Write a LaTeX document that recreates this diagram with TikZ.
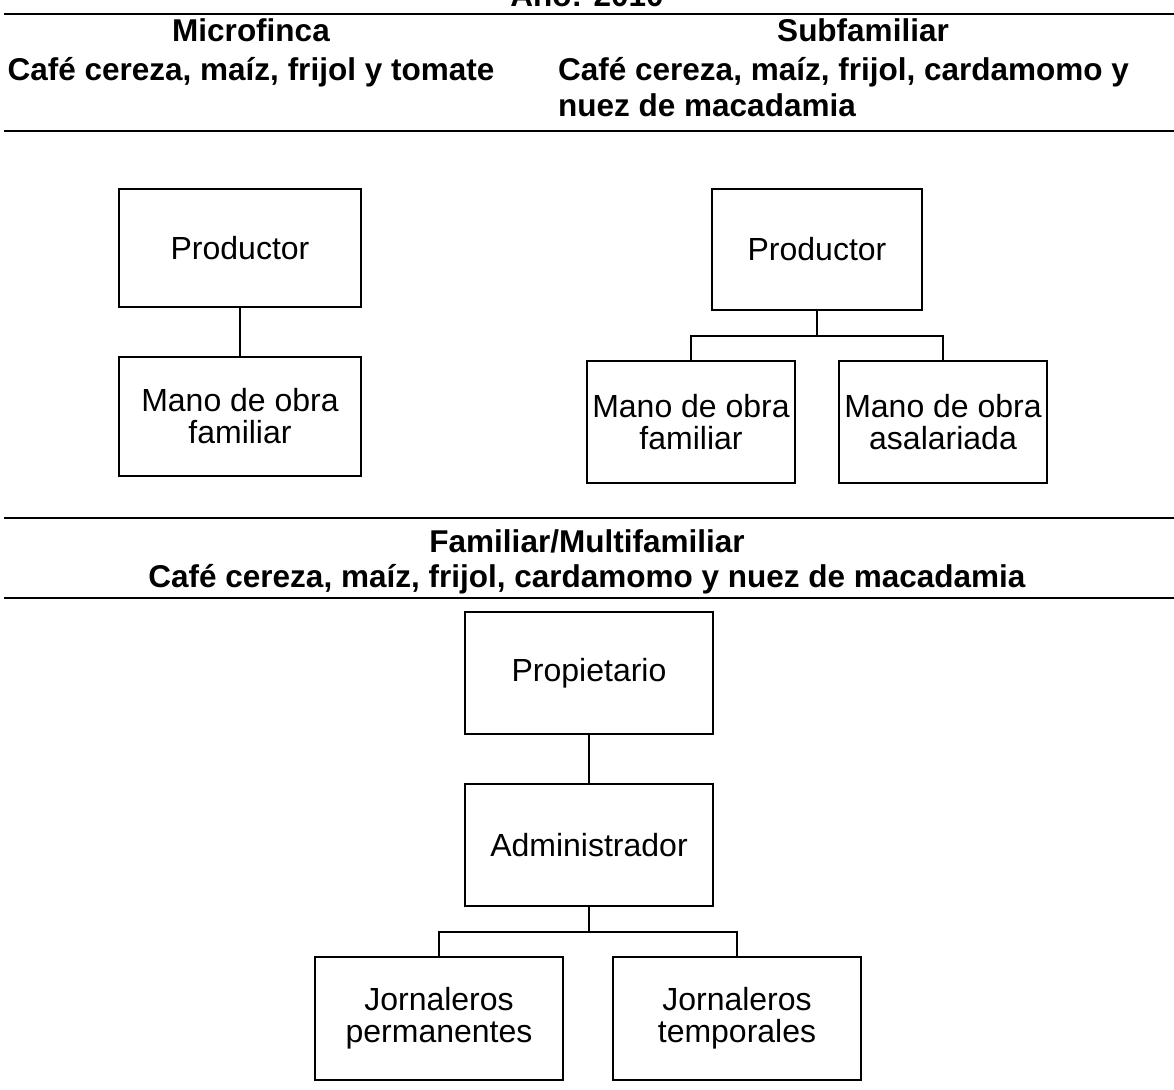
\documentclass[tikz,border=0pt]{standalone}
\usepackage{fontspec}
\setmainfont{Liberation Sans}
\begin{document}
\begin{tikzpicture}[x=1pt,y=-1pt,
  head/.style={font=\bfseries\fontsize{31.5}{36}\selectfont,inner sep=0pt,anchor=base},
  box/.style={draw,line width=1.6pt,inner sep=0pt,outer sep=0pt,align=center,
    font=\fontsize{32}{32}\selectfont},
  rule/.style={line width=2.6pt},
  link/.style={line width=1.6pt}]
\useasboundingbox (0,0) rectangle (1174,1089);
\clip (0,0) rectangle (1174,1089);
% title (cut off at top)
\node[head] (title) at (587,7) {Año: 2010};
\draw[rule] (4,14) -- (1174,14);
% headers
\node[head] (h1) at (251,42) {Microfinca};
\node[head] (h1b) at (251,81) {Café cereza, maíz, frijol y tomate};
\node[head] (h2) at (863,42) {Subfamiliar};
\node[head,anchor=base west] (h2b) at (558,81) {Café cereza, maíz, frijol, cardamomo y};
\node[head,anchor=base west] (h2c) at (558,117) {nuez de macadamia};
\draw[rule] (4,131) -- (1174,131);
% left tree
\node[box,minimum width=242pt,minimum height=118pt] (P1) at (240,248) {Productor};
\node[box,minimum width=242pt,minimum height=119pt] (M1) at (240,416.5) {Mano de obra\\familiar};
\draw[link] (P1.south) -- (M1.north);
% right tree
\node[box,minimum width=210pt,minimum height=121pt] (P2) at (817,249.5) {Productor};
\node[box,minimum width=208pt,minimum height=122pt] (C1) at (691,422) {Mano de obra\\familiar};
\node[box,minimum width=208pt,minimum height=122pt] (C2) at (943,422) {Mano de obra\\asalariada};
\coordinate (b2) at (817,336);
\draw[link] (P2.south) -- (b2);
\draw[link] (C1.north) |- (b2) -| (C2.north);
% middle header
\draw[rule] (4,518) -- (1174,518);
\node[head] (h3) at (587,552) {Familiar/Multifamiliar};
\node[head] (h3b) at (587,587) {Café cereza, maíz, frijol, cardamomo y nuez de macadamia};
\draw[rule] (4,598) -- (1174,598);
% bottom tree
\node[box,minimum width=248pt,minimum height=122pt] (Pr) at (589,673) {Propietario};
\node[box,minimum width=248pt,minimum height=122pt] (Ad) at (589,845) {Administrador};
\node[box,minimum width=248pt,minimum height=123pt] (J1) at (439,1018.5) {Jornaleros\\permanentes};
\node[box,minimum width=248pt,minimum height=123pt] (J2) at (737,1018.5) {Jornaleros\\temporales};
\draw[link] (Pr.south) -- (Ad.north);
\coordinate (b3) at (589,932);
\draw[link] (Ad.south) -- (b3);
\draw[link] (J1.north) |- (b3) -| (J2.north);
\end{tikzpicture}
\end{document}
